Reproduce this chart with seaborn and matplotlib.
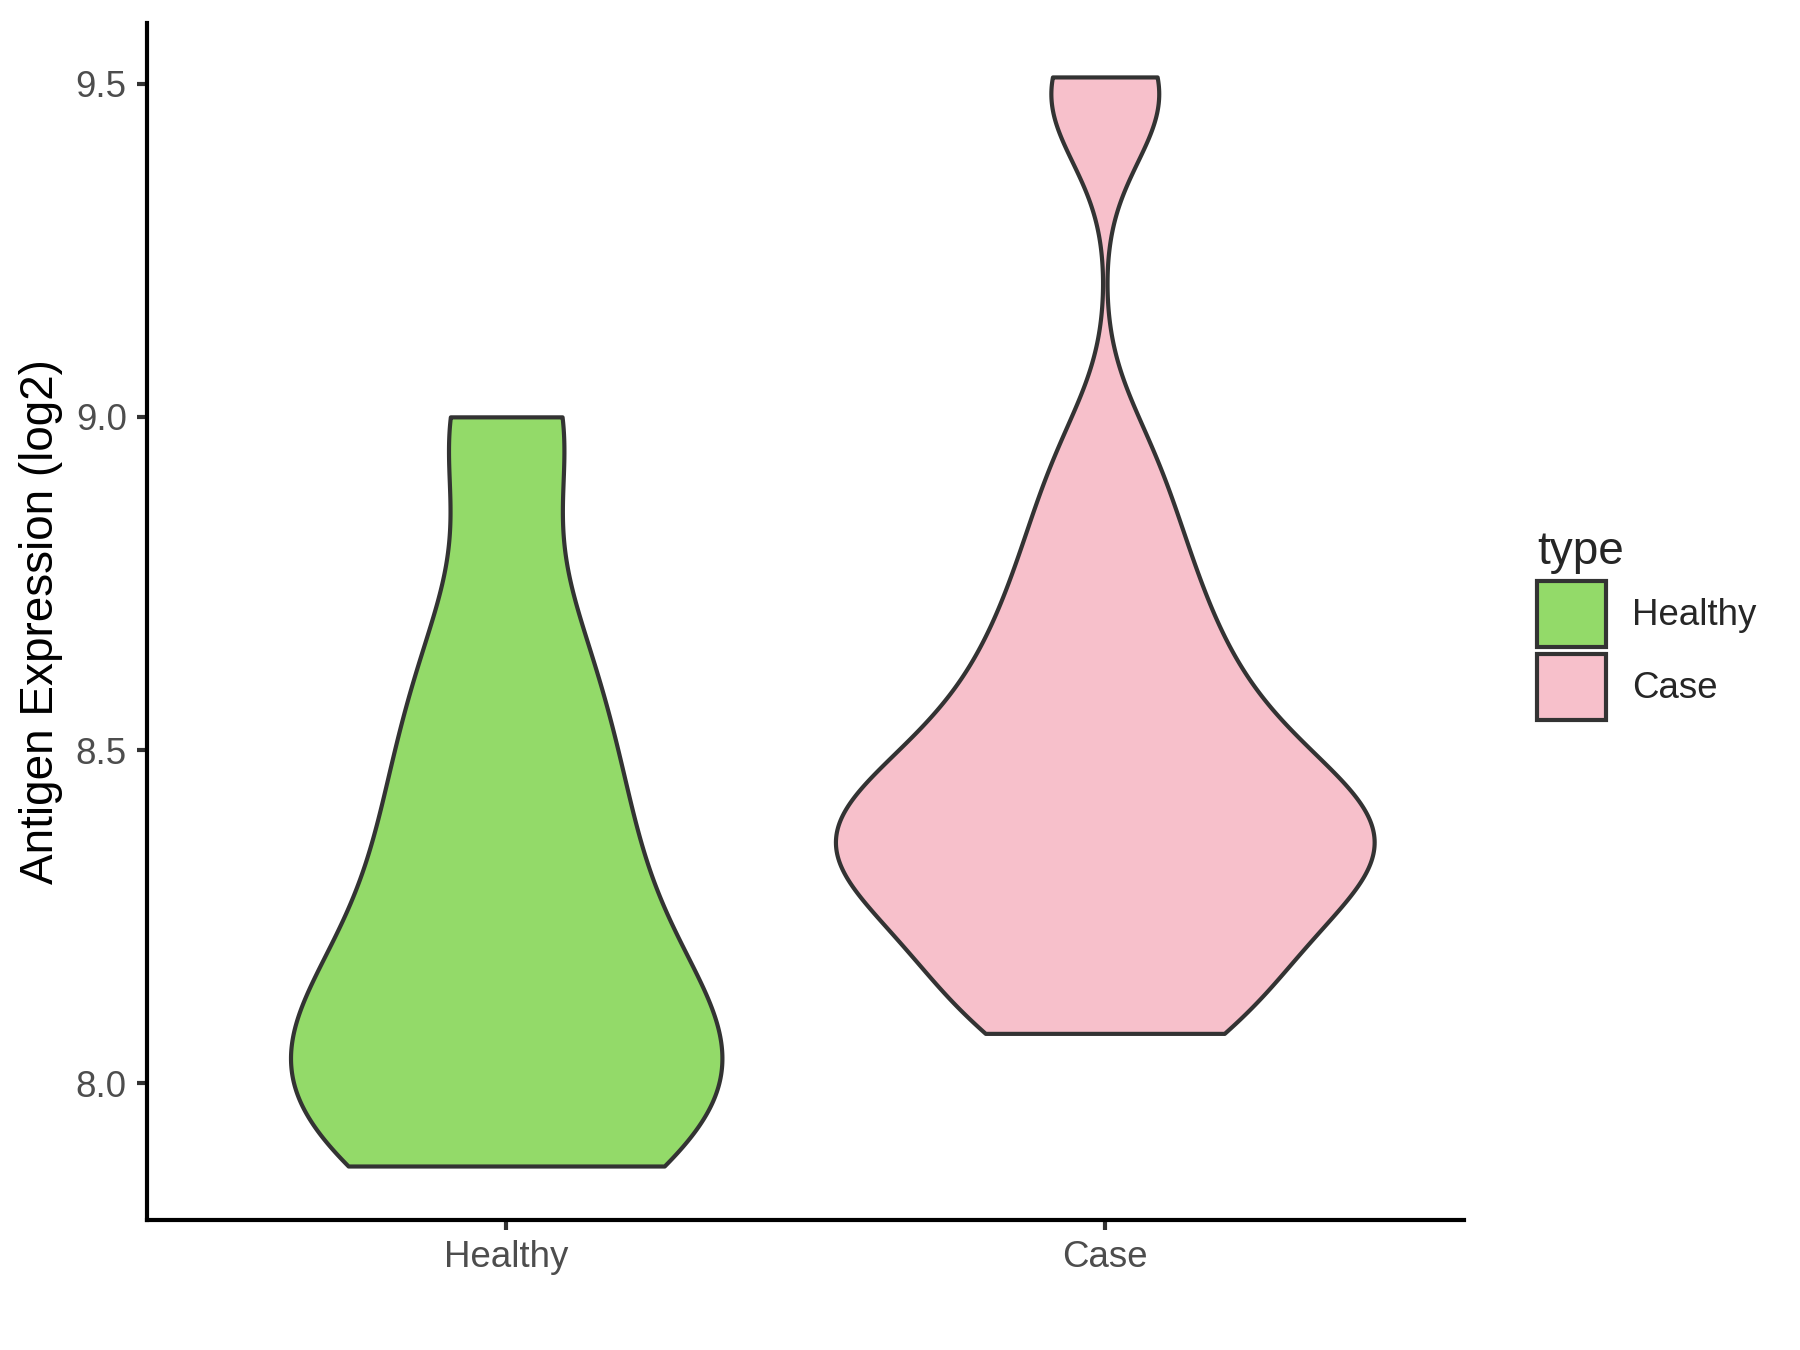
import numpy as np
import pandas as pd
import seaborn as sns
import matplotlib.pyplot as plt
from matplotlib.patches import Patch

# Antigen expression (log2)
healthy_vals = [7.876, 7.88, 7.90, 7.95, 8.00, 8.04, 8.07, 8.08, 8.12, 8.18,
                8.25, 8.31, 8.38, 8.45, 8.53, 8.62, 8.72, 8.99, 9.00]
case_vals = [8.075, 8.09, 8.13, 8.16, 8.23, 8.25, 8.28, 8.31, 8.33, 8.35,
             8.37, 8.39, 8.41, 8.43, 8.46, 8.49, 8.54, 8.58, 8.63, 8.69,
             8.76, 8.84, 8.95, 9.46, 9.51]

groups = ["Healthy", "Case"]
colors = ["#93DA69", "#F7C0CB"]
y_ticks = [8.0, 8.5, 9.0, 9.5]

df = pd.DataFrame({
    "type": ["Healthy"] * len(healthy_vals) + ["Case"] * len(case_vals),
    "value": healthy_vals + case_vals,
})


def nrd0(kde):
    # R's default bandwidth rule (what ggplot's geom_violin uses)
    x = kde.dataset[0]
    sd = x.std(ddof=1)
    q75, q25 = np.percentile(x, [75, 25])
    h = 0.9 * min(sd, (q75 - q25) / 1.34) * len(x) ** -0.2
    return h / sd


sns.set_style("ticks")
plt.rcParams["font.family"] = ["Liberation Sans", "DejaVu Sans"]

fig = plt.figure(figsize=(6, 4.5), dpi=300)
ax = fig.add_axes([0.0817, 0.0963, 0.7316, 0.8867])

sns.violinplot(data=df, x="type", y="value", hue="type", order=groups,
               hue_order=groups, palette=colors, saturation=1, cut=0,
               density_norm="area", common_norm=True, width=0.9, inner=None,
               linewidth=1.0, linecolor="#333333", bw_method=nrd0,
               bw_adjust=0.8, gridsize=400, legend=False, ax=ax)

ax.set_xlim(-0.6, 1.6)
ax.set_ylim(7.795, 9.591)
ax.set_yticks(y_ticks)
ax.set_yticklabels([f"{t:.1f}" for t in y_ticks])
ax.set_xlabel("")
ax.set_ylabel("Antigen Expression (log2)", fontsize=11, color="black", labelpad=3)
ax.tick_params(axis="both", labelsize=8.8, labelcolor="#4D4D4D", color="#333333",
               length=2.4, width=1.0, pad=2.5)
for side in ["top", "right"]:
    ax.spines[side].set_visible(False)
for side in ["left", "bottom"]:
    ax.spines[side].set_linewidth(1.0)
    ax.spines[side].set_color("black")

# legend keys drawn as big square swatches, like ggplot's
handles = [Patch(facecolor=c, edgecolor="#333333", linewidth=1.0) for c in colors]
ax.legend(handles, groups, loc="center left", bbox_to_anchor=(0.854, 0.537),
          bbox_transform=fig.transFigure, frameon=False, title="type",
          title_fontsize=11, fontsize=8.8, handlelength=1.88,
          handleheight=2.4, labelspacing=0.19, handletextpad=0.71,
          borderpad=0, borderaxespad=0, alignment="left")

fig.savefig("out.png", dpi=300)
